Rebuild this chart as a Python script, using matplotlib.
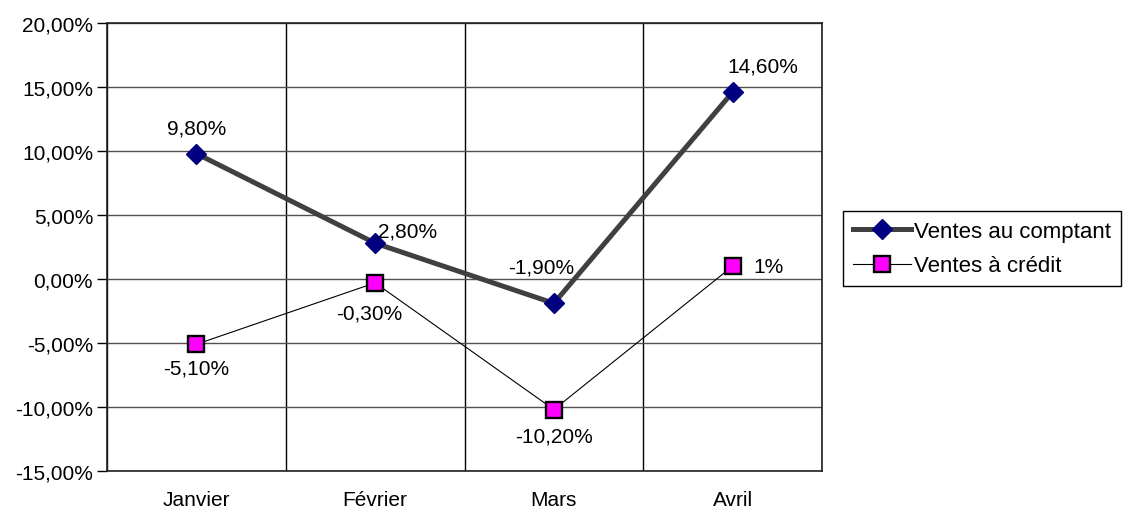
import matplotlib
matplotlib.use("Agg")
import matplotlib.pyplot as plt
from matplotlib.ticker import FixedLocator, FuncFormatter

plt.rcParams['font.family'] = ['Liberation Sans', 'DejaVu Sans']

months = ["Janvier", "Février", "Mars", "Avril"]
comptant = [9.8, 2.8, -1.9, 14.6]
credit = [-5.1, -0.3, -10.2, 1.0]
y_ticks = [-15, -10, -5, 0, 5, 10, 15, 20]

FS = 15


def pct(v):
    return f"{v:.2f}%".replace(".", ",")


def label_text(v):
    if float(v).is_integer():
        return f"{int(v)}%"
    return pct(v)


fig = plt.figure(figsize=(11.28, 5.10), dpi=100)
ax = fig.add_axes([107 / 1128, 1 - 472 / 510, (822 - 107) / 1128, (472 - 24) / 510])

x = list(range(len(months)))

ax.plot(x, comptant, color="#404040", lw=3.6, marker="D", ms=10.5,
        mfc="#000080", mec="#000080", label="Ventes au comptant", zorder=4)
ax.plot(x, credit, color="black", lw=0.8, marker="s", ms=11.5,
        mfc="#FF00FF", mec="black", mew=1.7, label="Ventes à crédit", zorder=5)

ax.set_xlim(-0.5, len(months) - 0.5)
ax.set_ylim(y_ticks[0], y_ticks[-1])
ax.yaxis.set_major_locator(FixedLocator(y_ticks))
ax.yaxis.set_major_formatter(FuncFormatter(lambda v, p: pct(v)))
ax.set_xticks(x)
ax.set_xticklabels(months)
ax.xaxis.set_minor_locator(FixedLocator([i + 0.5 for i in range(-1, len(months))]))

ax.grid(axis="y", which="major", color="#505050", lw=1.0, zorder=1)
ax.grid(axis="x", which="minor", color="black", lw=1.0, zorder=1)

ax.tick_params(axis="y", which="major", direction="out", length=7, width=1,
               labelsize=FS, pad=3, color="black")
ax.tick_params(axis="x", which="both", length=0, labelsize=FS, pad=14)
for s in ax.spines.values():
    s.set_color("#202020")
    s.set_linewidth(1.2)

# data labels (offsets in pixels)
off_c = [(0, 26), (32, 12), (-13, 36), (30, 26)]
off_r = [(0, -24), (-6, -30), (0, -26), (36, 0)]
for xi, v, o in zip(x, comptant, off_c):
    ax.annotate(label_text(v), (xi, v), xytext=o, textcoords="offset pixels",
                ha="center", va="center", fontsize=FS, zorder=6)
for xi, v, o in zip(x, credit, off_r):
    ax.annotate(label_text(v), (xi, v), xytext=o, textcoords="offset pixels",
                ha="center", va="center", fontsize=FS, zorder=6)

leg = fig.legend(loc="upper left", bbox_to_anchor=(843 / 1128, 1 - 212 / 510),
                 fontsize=16, frameon=True, fancybox=False, edgecolor="black",
                 framealpha=1, borderaxespad=0, borderpad=0.45, handlelength=2.6,
                 handletextpad=0.15, labelspacing=0.6)
leg.get_frame().set_linewidth(1.0)

fig.savefig("out.png", dpi=100)
